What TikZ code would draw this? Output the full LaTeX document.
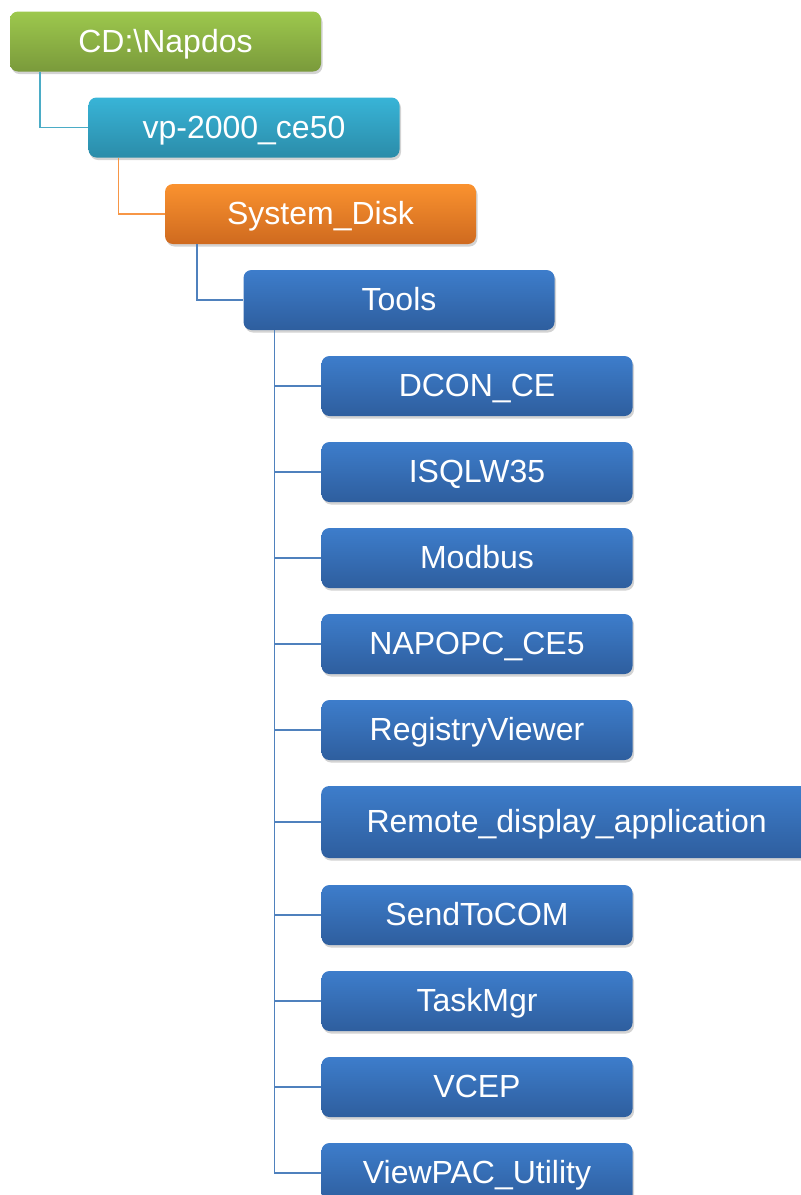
\documentclass[tikz,border=0pt]{standalone}
\usepackage{fontspec}
\setmainfont{Liberation Sans}
\usetikzlibrary{positioning}
\usetikzlibrary{shadows}
\definecolor{greentop}{HTML}{9DC84D}
\definecolor{greenbot}{HTML}{7A9A3B}
\definecolor{tealtop}{HTML}{38B4D7}
\definecolor{tealbot}{HTML}{2B8CA9}
\definecolor{orangetop}{HTML}{FA922F}
\definecolor{orangebot}{HTML}{CF6A1F}
\definecolor{bluetop}{HTML}{3D7DCB}
\definecolor{bluebot}{HTML}{2E5E9E}
\definecolor{tealline}{HTML}{4BACC6}
\definecolor{orangeline}{HTML}{F79646}
\definecolor{blueline}{HTML}{4F81BD}
\tikzset{
  % A folder box: white label on a shaded rounded box
  folder/.style={
    rounded corners=8pt, text=white, font=\fontsize{32}{38}\selectfont,
    minimum width=311pt, minimum height=60pt, inner sep=0pt,
    text height=25pt, text depth=4pt,
    drop shadow={opacity=0.35, shadow xshift=1.5pt, shadow yshift=-2.5pt}},
  greenbox/.style={folder, top color=greentop, bottom color=greenbot},
  tealbox/.style={folder, top color=tealtop, bottom color=tealbot},
  orangebox/.style={folder, top color=orangetop, bottom color=orangebot},
  bluebox/.style={folder, top color=bluetop, bottom color=bluebot},
  % Tree links
  link/.style={line width=1.6pt, draw=#1},
}

\begin{document}
\begin{tikzpicture}[x=1pt, y=-1pt]

  \clip (0,0) rectangle (801,1195);

  \node[greenbox]  (cd)    at (165.5,41.5) {CD:\textbackslash Napdos};
  \node[tealbox]   (vp)    at (244,127.5)  {vp-2000\_ce50};
  \node[orangebox] (sys)   at (320.5,214)  {System\_Disk};
  \node[bluebox]   (tools) at (399,300)    {Tools};

  \node[bluebox] (dcon)   at (477,386)  {DCON\_CE};
  \node[bluebox] (isql)   at (477,472)  {ISQLW35};
  \node[bluebox] (modbus) at (477,558)  {Modbus};
  \node[bluebox] (napopc) at (477,644)  {NAPOPC\_CE5};
  \node[bluebox] (regv)   at (477,730)  {RegistryViewer};
  \node[bluebox, minimum width=491pt, minimum height=72pt, anchor=west]
       (remote) at (321,822) {Remote\_display\_application};
  \node[bluebox] (sendc)  at (477,915)  {SendToCOM};
  \node[bluebox] (taskm)  at (477,1001) {TaskMgr};
  \node[bluebox] (vcep)   at (477,1087) {VCEP};
  \node[bluebox] (vpac)   at (477,1173) {ViewPAC\_Utility};

  \draw[link=tealline]   ([xshift=30pt]cd.south west)  |- (vp.west);
  \draw[link=orangeline] ([xshift=30pt]vp.south west)  |- (sys.west);
  \draw[link=blueline]   ([xshift=32pt]sys.south west) |- (tools.west);
  \foreach \kid in {dcon,isql,modbus,napopc,regv,remote,sendc,taskm,vcep,vpac}
    \draw[link=blueline] ([xshift=31pt]tools.south west) |- (\kid.west);

\end{tikzpicture}
\end{document}
